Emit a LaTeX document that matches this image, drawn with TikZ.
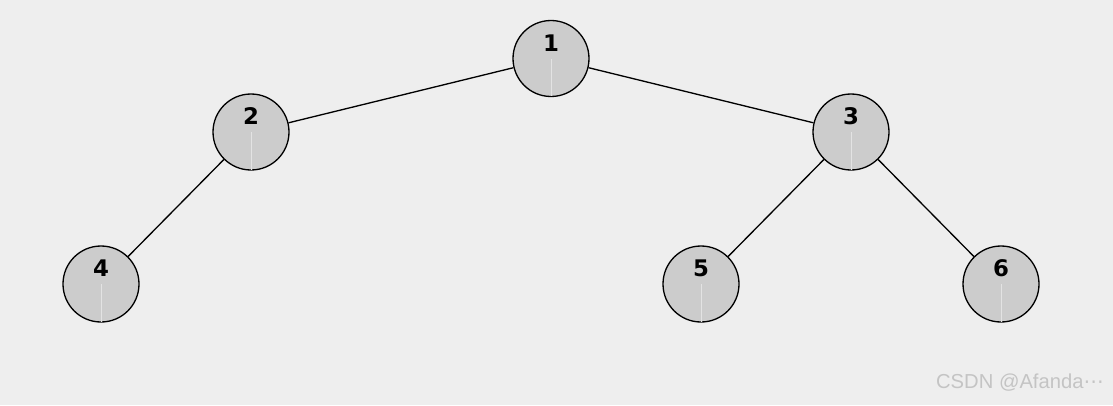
\documentclass[tikz,border=0pt]{standalone}
\usepackage{fontspec}
\setmainfont{DejaVu Sans}
\newfontfamily\markfont{Liberation Sans}
\usetikzlibrary{positioning, calc}

\definecolor{bgcol}{HTML}{EEEEEE}
\definecolor{nodecol}{HTML}{CCCCCC}
\definecolor{markcol}{HTML}{C4C4C4}

\begin{document}
\begin{tikzpicture}[
    vertex/.style = {draw, circle, fill=nodecol, line width=0.75pt, minimum size=1.52cm, inner sep=0pt},
    numlbl/.style = {font=\fontsize{13pt}{15pt}\selectfont\bfseries, yshift=0.31cm},
    edge/.style   = {line width=0.75pt},
    faint/.style  = {line width=0.5pt, draw=nodecol!55!white, shorten >=0.4pt}
]

% Pozadi
\fill[bgcol] (0,0) rectangle (22.26,8.1);
\useasboundingbox (0,0) rectangle (22.26,8.1);

% Uzly stromu
\node[vertex, label={[numlbl]center:1}] (n1) at (11.02,6.93) {};
\node[vertex, label={[numlbl]center:2}] (n2) at (5.02,5.46)  {};
\node[vertex, label={[numlbl]center:3}] (n3) at (17.02,5.46) {};
\node[vertex, label={[numlbl]center:4}] (n4) at (2.02,2.42)  {};
\node[vertex, label={[numlbl]center:5}] (n5) at (14.02,2.42) {};
\node[vertex, label={[numlbl]center:6}] (n6) at (20.02,2.42) {};

% Svisle carky uvnitr uzlu
\foreach \n in {n1,n2,n3,n4,n5,n6}
    \draw[faint] (\n.center) -- (\n.south);

% Hrany
\draw[edge] (n1) -- (n2);
\draw[edge] (n1) -- (n3);
\draw[edge] (n2) -- (n4);
\draw[edge] (n3) -- (n5);
\draw[edge] (n3) -- (n6);

% Vodoznak
\node[anchor=east, text=markcol, font=\markfont\fontsize{11.5pt}{13pt}\selectfont] (wm)
    at (22.2,0.44) {CSDN @Afanda{\rmfamily ⋯}};

\end{tikzpicture}
\end{document}
